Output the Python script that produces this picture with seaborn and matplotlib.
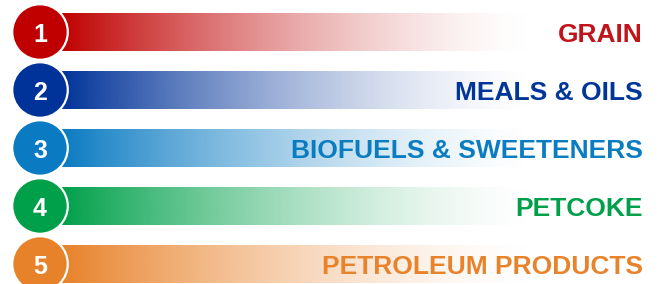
import numpy as np
import pandas as pd
import seaborn as sns
import matplotlib.pyplot as plt
from matplotlib.colors import to_rgb

numbers = ["1", "2", "3", "4", "5"]
labels = ["GRAIN", "MEALS & OILS", "BIOFUELS & SWEETENERS", "PETCOKE", "PETROLEUM PRODUCTS"]
colors = ["#C00000", "#003399", "#0A7BC2", "#00A04A", "#E8822A"]
text_colors = ["#C0141B", "#00359A", "#0A7DC2", "#00A04B", "#E8832B"]
bar_length = [480, 480, 480, 480, 480]

df = pd.DataFrame({"label": labels, "length": bar_length})

sns.set_theme(style="white")
plt.rcParams["font.family"] = ["Liberation Sans", "DejaVu Sans"]

fig = plt.figure(figsize=(6.57, 2.84), dpi=100)
ax = fig.add_axes([0, 0, 1, 1])

sns.barplot(data=df, x="length", y="label", hue="label", palette=colors,
            orient="h", width=0.64, legend=False, ax=ax)

# fade each bar to white, left to right
for patch, c in zip(ax.patches, colors):
    x0, y0 = patch.get_x(), patch.get_y()
    w, h = patch.get_width(), patch.get_height()
    grad = np.zeros((1, 256, 4))
    grad[..., :3] = to_rgb(c)
    grad[..., 3] = np.linspace(1, 0, 256) ** 1.6
    im = ax.imshow(grad, extent=[x0, x0 + w, y0 + h, y0], aspect="auto",
                   interpolation="bilinear", zorder=1)
    im.set_clip_path(patch)
    patch.set_facecolor("none")
    patch.set_edgecolor("none")

circ = pd.DataFrame({"x": [-22] * 5, "y": range(5), "label": labels})
sns.scatterplot(data=circ, x="x", y="y", hue="label", palette=colors, s=1600,
                edgecolor="white", linewidth=1.6, legend=False, zorder=3, ax=ax)

for i, (n, lab, tc) in enumerate(zip(numbers, labels, text_colors)):
    ax.text(-22, i + 0.17, n, color="white", fontsize=18, fontweight="bold",
            ha="center", va="baseline", zorder=4)
    ax.text(581, i + 0.17, lab, color=tc, fontsize=19, fontweight="bold",
            ha="right", va="baseline", zorder=4)

ax.set_xlim(-62, 595)
ax.set_ylim(4.345, -0.552)
ax.axis("off")

fig.savefig("out.png", dpi=100)
